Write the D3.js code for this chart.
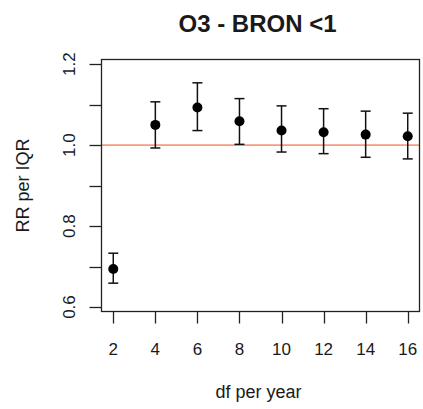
<!DOCTYPE html>
<html>
<head>
<meta charset="utf-8" />
<script src="https://d3js.org/d3.v7.min.js"></script>
<style>
  body { margin: 0; background: #fff; }
  text { font-family: "Liberation Sans", Arial, sans-serif; fill: #1a1a1a; }
</style>
</head>
<body>
<svg id="viz"></svg>
<script>
var width = 423, height = 409;

// df per year, RR estimate and 95% CI
var dfs   = [2, 4, 6, 8, 10, 12, 14, 16];
var rr    = [0.694, 1.050, 1.093, 1.059, 1.036, 1.032, 1.026, 1.022];
var lower = [0.659, 0.993, 1.036, 1.002, 0.983, 0.979, 0.970, 0.966];
var upper = [0.733, 1.107, 1.154, 1.115, 1.097, 1.090, 1.084, 1.079];
var xTicks = [2, 4, 6, 8, 10, 12, 14, 16];
var yTicks = [0.6, 0.7, 0.8, 0.9, 1.0, 1.1, 1.2];
var yLabels = {0.6: "0.6", 0.8: "0.8", 1.0: "1.0", 1.2: "1.2"};

var box = {left: 101.5, right: 419.5, top: 59.5, bottom: 311.5};

var svg = d3.select("#viz").attr("width", width).attr("height", height);

var x = d3.scaleLinear().domain([1.44, 16.56]).range([box.left, box.right]);
var y = d3.scaleLinear().domain([0.589, 1.2116]).range([box.bottom, box.top]);

// reference line at 1
svg.append("line")
  .attr("x1", box.left).attr("x2", box.right)
  .attr("y1", y(1)).attr("y2", y(1))
  .attr("stroke", "#f89a7c").attr("stroke-width", 1.6);

// plot box
svg.append("rect")
  .attr("x", box.left).attr("y", box.top)
  .attr("width", box.right - box.left).attr("height", box.bottom - box.top)
  .attr("fill", "none").attr("stroke", "#222").attr("stroke-width", 1.3);

// x axis
var xAxis = svg.append("g");
xAxis.selectAll("line").data(xTicks).enter().append("line")
  .attr("x1", d => Math.round(x(d)) + 0.5).attr("x2", d => Math.round(x(d)) + 0.5)
  .attr("y1", box.bottom).attr("y2", box.bottom + 12)
  .attr("stroke", "#222").attr("stroke-width", 1.3);
xAxis.selectAll("text").data(xTicks).enter().append("text")
  .attr("x", d => x(d)).attr("y", 355)
  .attr("text-anchor", "middle").attr("font-size", 17)
  .text(d => d);

// y axis
var yAxis = svg.append("g");
yAxis.selectAll("line").data(yTicks).enter().append("line")
  .attr("x1", box.left - 12).attr("x2", box.left)
  .attr("y1", d => Math.round(y(d)) + 0.5).attr("y2", d => Math.round(y(d)) + 0.5)
  .attr("stroke", "#222").attr("stroke-width", 1.3);
yAxis.selectAll("text").data(yTicks.filter(d => yLabels[d])).enter().append("text")
  .attr("transform", d => "translate(75," + y(d) + ") rotate(-90)")
  .attr("text-anchor", "middle").attr("font-size", 17)
  .text(d => yLabels[d]);

// error bars
var bars = svg.append("g").selectAll("g").data(dfs).enter().append("g");
bars.append("line")
  .attr("x1", (d, i) => x(d)).attr("x2", (d, i) => x(d))
  .attr("y1", (d, i) => y(lower[i])).attr("y2", (d, i) => y(upper[i]))
  .attr("stroke", "#111").attr("stroke-width", 1.5);
bars.append("line")
  .attr("x1", d => x(d) - 5).attr("x2", d => x(d) + 5)
  .attr("y1", (d, i) => y(lower[i])).attr("y2", (d, i) => y(lower[i]))
  .attr("stroke", "#111").attr("stroke-width", 1.5);
bars.append("line")
  .attr("x1", d => x(d) - 5).attr("x2", d => x(d) + 5)
  .attr("y1", (d, i) => y(upper[i])).attr("y2", (d, i) => y(upper[i]))
  .attr("stroke", "#111").attr("stroke-width", 1.5);
bars.append("circle")
  .attr("cx", d => x(d)).attr("cy", (d, i) => y(rr[i]))
  .attr("r", 5).attr("fill", "#000");

// titles
svg.append("text")
  .attr("x", (box.left + box.right) / 2 - 3).attr("y", 32)
  .attr("text-anchor", "middle").attr("font-size", 24).attr("font-weight", "bold")
  .attr("fill", "#000")
  .text("O3 - BRON <1");
svg.append("text")
  .attr("x", (box.left + box.right) / 2 - 2).attr("y", 398)
  .attr("text-anchor", "middle").attr("font-size", 18)
  .text("df per year");
svg.append("text")
  .attr("transform", "translate(29," + (box.top + box.bottom) / 2 + ") rotate(-90)")
  .attr("text-anchor", "middle").attr("font-size", 18)
  .text("RR per IQR");
</script>
</body>
</html>
